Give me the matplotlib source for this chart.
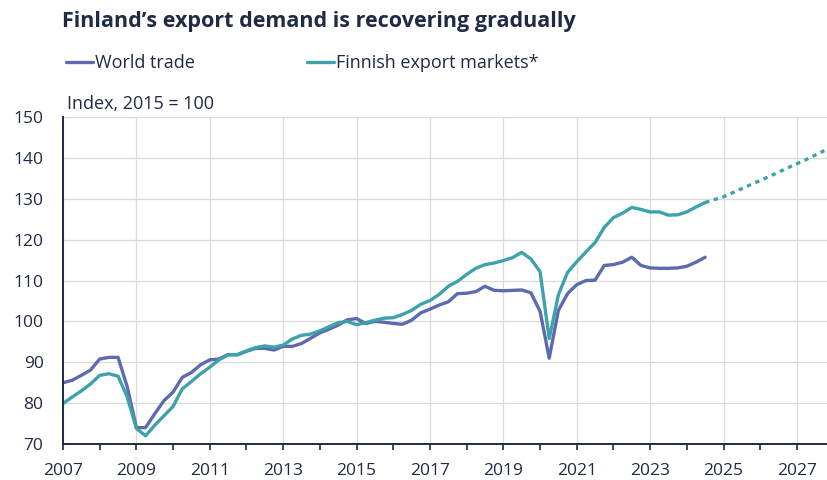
import numpy as np
import matplotlib.pyplot as plt

plt.rcParams['font.family'] = ['Open Sans', 'DejaVu Sans']

# quarterly data, 2007Q1 onwards
world_trade = [85.0, 85.6, 86.8, 88.1, 90.8, 91.2, 91.2, 84.0,
               74.0, 74.0, 77.4, 80.6, 82.7, 86.3, 87.5, 89.4,
               90.6, 90.8, 91.9, 91.8, 92.7, 93.4, 93.4, 93.0,
               93.9, 93.9, 94.6, 95.9, 97.2, 98.1, 99.1, 100.4,
               100.7, 99.5, 100.0, 99.8, 99.5, 99.3, 100.3, 102.1,
               103.0, 104.0, 104.8, 106.8, 106.9, 107.3, 108.6, 107.6,
               107.5, 107.6, 107.7, 107.0, 102.5, 91.0, 102.7, 106.8,
               109.0, 110.0, 110.1, 113.7, 113.9, 114.5, 115.7, 113.7,
               113.1, 113.0, 113.0, 113.1, 113.5, 114.5, 115.7]
export_markets = [79.9, 81.5, 83.0, 84.7, 86.8, 87.2, 86.6, 81.5,
                  73.8, 72.0, 74.6, 76.9, 79.2, 83.5, 85.3, 87.2,
                  88.8, 90.6, 91.8, 91.9, 92.8, 93.6, 94.0, 93.7,
                  94.2, 95.7, 96.6, 96.9, 97.7, 98.7, 99.7, 100.0,
                  99.2, 99.7, 100.3, 100.8, 100.9, 101.7, 102.7, 104.2,
                  105.1, 106.6, 108.6, 109.8, 111.5, 113.0, 113.9, 114.3,
                  114.9, 115.6, 116.9, 115.3, 112.2, 95.8, 106.5, 112.0,
                  114.6, 117.0, 119.3, 123.0, 125.4, 126.5, 127.9, 127.4,
                  126.8, 126.8, 126.0, 126.1, 126.8, 128.0, 129.1]
# forecast, 2024Q3 onwards
forecast = [129.1, 129.8, 130.5, 131.5, 132.5, 133.5, 134.5, 135.5,
            136.5, 137.6, 138.6, 139.6, 140.7, 141.8]

t_hist = 2007 + np.arange(len(world_trade)) / 4
t_fc = t_hist[-1] + np.arange(len(forecast)) / 4
year_ticks = list(range(2007, 2028, 2))

navy = '#1F2A44'
c_world = '#5B6BAE'
c_fin = '#3EA2AA'

fig = plt.figure(figsize=(8.28, 4.8), dpi=100)
ax = fig.add_axes([0.0761, 0.075, 0.924, 0.681])

l1, = ax.plot(t_hist, world_trade, color=c_world, lw=2.4, solid_capstyle='round')
l2, = ax.plot(t_hist, export_markets, color=c_fin, lw=2.4, solid_capstyle='round')
ax.plot(t_fc, forecast, color=c_fin, lw=2.4, linestyle=(0, (1.3, 1.4)))

ax.set_xlim(2007, 2027.85)
ax.set_ylim(70, 150)
ax.set_yticks(range(70, 151, 10))
ax.set_xticks(year_ticks)
ax.set_xticks(range(2007, 2028), minor=True)
ax.grid(axis='y', color='#DADADA', lw=0.9)
ax.grid(axis='x', which='major', color='#DADADA', lw=0.9)
ax.set_axisbelow(True)

for s in ['top', 'right']:
    ax.spines[s].set_visible(False)
for s in ['left', 'bottom']:
    ax.spines[s].set_color(navy)
    ax.spines[s].set_linewidth(1.4)

ax.tick_params(axis='y', length=0, pad=14, labelsize=12.5, labelcolor=navy)
ax.tick_params(axis='x', which='both', length=4, width=1.2, color=navy, direction='out',
               pad=10, labelsize=12.5, labelcolor=navy)

fig.text(0.0745, 0.943, 'Finland\u2019s export demand is recovering gradually', fontsize=15.5,
         fontweight='bold', color=navy, va='baseline')
fig.text(0.0815, 0.772, 'Index, 2015 = 100', fontsize=13, color=navy, va='baseline')

# two single-entry legends so the columns sit where the reference has them
for handle, name, x0 in [(l1, 'World trade', 0.0601), (l2, 'Finnish export markets*', 0.3509)]:
    leg = fig.legend([handle], [name], loc='center left', bbox_to_anchor=(x0, 0.868),
                     frameon=False, fontsize=13, handlelength=1.5, handletextpad=0.1)
    for txt in leg.get_texts():
        txt.set_color(navy)

fig.savefig('out.png', dpi=100)
